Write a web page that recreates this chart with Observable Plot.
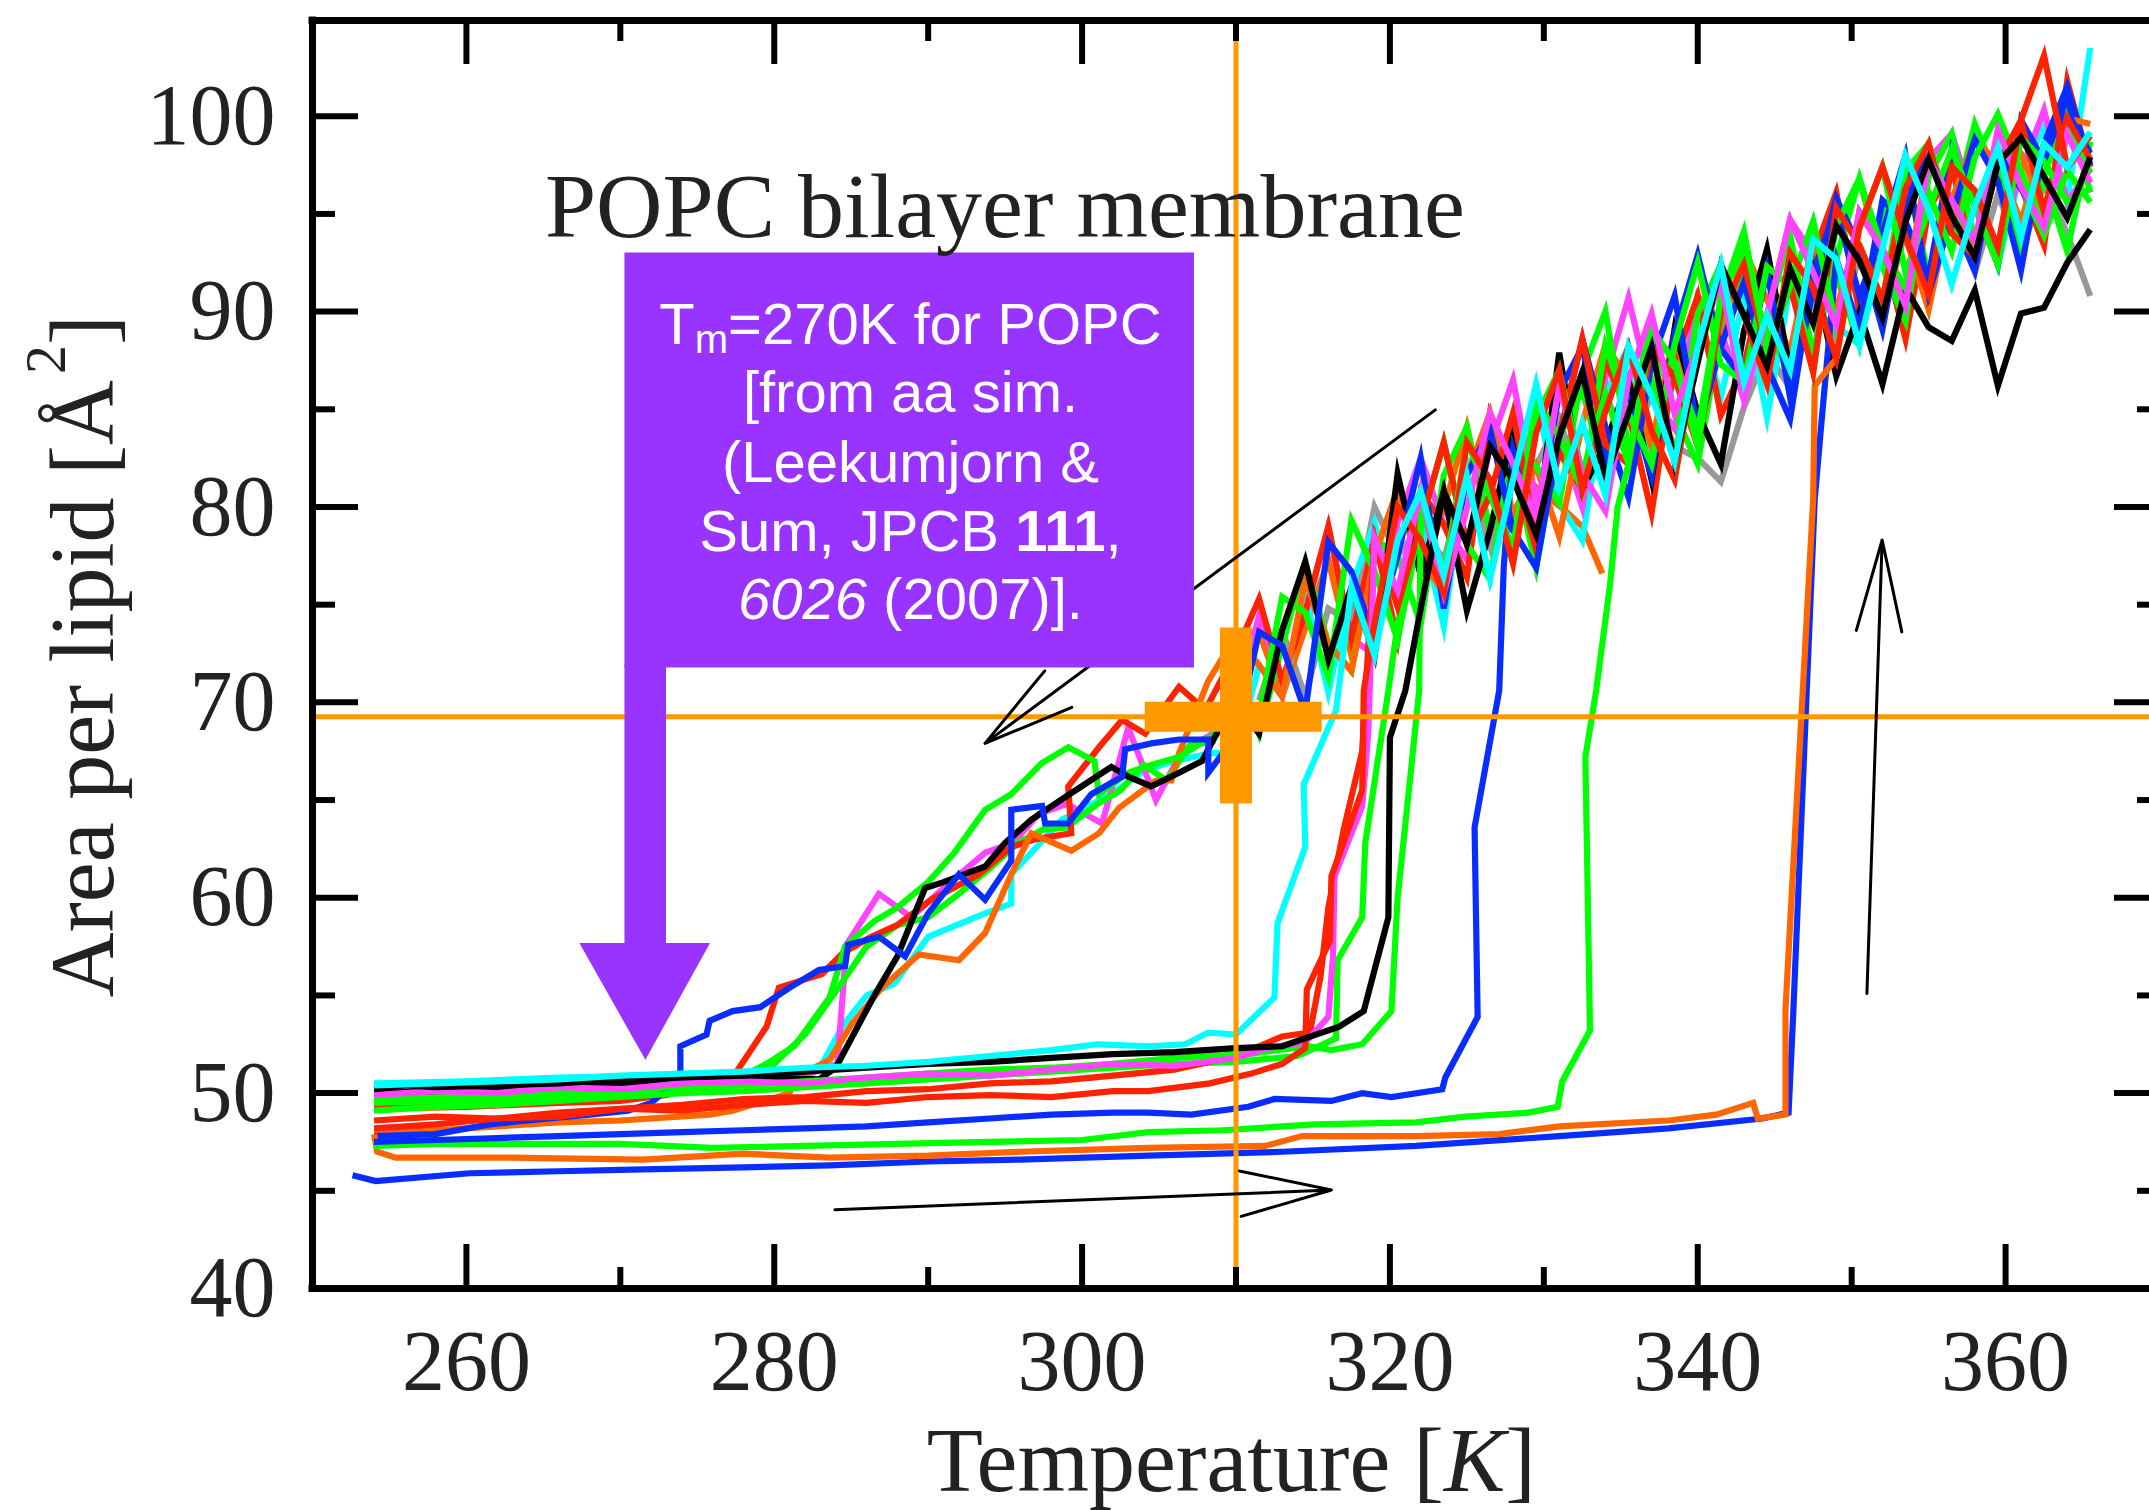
<!DOCTYPE html>
<html><head><meta charset="utf-8">
<script src="https://cdn.jsdelivr.net/npm/d3@7"></script>
<script src="https://cdn.jsdelivr.net/npm/@observablehq/plot@0.6"></script>
<style>html,body{margin:0;padding:0;background:#fff;overflow:hidden}</style>
</head><body><div id="chart"></div>
<script>
// ---------- ticks ----------
const xMajor = [260, 280, 300, 320, 340, 360];
const xMinor = [270, 290, 310, 330, 350];
const yMajor = [40, 50, 60, 70, 80, 90, 100];
const yMinor = [45, 55, 65, 75, 85, 95];

// ---------- shared temperature grid of the high-T (fluid) band ----------
const bandT = [310,311.5,313,314.5,316,317.5,319,320.5,322,323.5,325,326.5,328,329.5,331,332.5,334,335.5,337,338.5,340,341.5,343,344.5,346,347.5,349,350.5,352,353.5,355,356.5,358,359.5,361,362.5,364,365.5];

// ---------- cooling runs: low-T part [T, A] then band values ----------
const coolBlackLow = [[254,50.0],[258,50.1],[262,50.3],[266,50.4],[270,50.5],[274,50.7],[278,50.8],[282.9,50.7],[284,51.3],[286.5,55.0],[288,57.0],[289.8,60.5],[291,60.8],[293.7,61.6],[295,62.8],[296.7,64.0],[299,65.2],[301.9,66.7],[303,66.2],[304.5,65.7],[306.3,66.4],[307.8,67.0],[308.6,68.2]];
const coolBlackBand = [70.0,68.4,73.7,77.2,72.2,75.9,72.4,81.7,76.5,80.8,74.7,78.8,83.9,78.6,87.9,80.9,83.2,86.5,81.4,89.1,84.8,82.2,89.0,93.2,87.0,92.0,86.7,90.0,86.3,91.2,89.2,88.5,91.1,86.2,89.9,90.2,92.5,94.2];

const coolBlueLow = [[254,47.8],[258,47.9],[261.5,48.4],[264,48.6],[268,48.9],[270.5,49.1],[272,49.5],[273.9,50.8],[273.9,52.4],[275.6,53.0],[275.8,53.7],[277.3,54.2],[279.1,54.4],[281,55.4],[282.9,56.3],[284.6,56.5],[284.8,57.6],[286.8,58.0],[288.5,57.0],[290,59.2],[292,61.2],[293.7,59.9],[295.4,61.9],[295.4,64.5],[297.4,64.7],[297.6,63.8],[299.1,63.8],[300.6,65.3],[302.6,66.2],[302.8,67.6],[304.5,67.9],[306.3,68.1],[308.2,68.1],[308.2,66.4]];
const coolBlueBand = [68.3,73.6,72.9,69.5,78.2,76.7,73.2,77.5,82.5,74.8,81.6,84.0,78.8,76.9,83.6,88.6,84.1,80.5,87.4,90.8,83.9,88.2,91.5,87.2,84.5,92.0,95.3,90.8,94.0,98.0,90.9,94.9,98.8,96.7,92.1,98.6,101.5,97.5];

const coolGreenLow = [[254,49.7],[260,49.9],[266,50.0],[272,50.2],[277,50.5],[279.5,51.5],[281.3,52.4],[283.6,54.9],[284.6,57.5],[286.5,58.8],[288,59.5],[290,60.8],[291.7,62.3],[293.7,64.5],[295.4,65.3],[297.4,66.9],[299.1,67.7],[300.8,67.0],[301.1,65.3],[303,66.4],[304.5,66.8],[306.3,67.2],[308.5,68.3]];
const coolGreenBand = [70.9,69.3,75.4,74.6,71.3,79.3,76.7,73.2,79.1,83.3,78.1,76.3,83.1,82.1,80.2,86.9,90.0,83.0,86.5,82.3,89.9,92.4,86.4,89.8,93.9,87.7,92.7,96.8,92.3,89.5,96.9,99.1,93.6,97.6,93.8,96.9,93.1,98.7];

const coolGreen2Low = [[254,49.3],[262,49.6],[270,49.9],[276,50.3],[280,51.5],[282,53.0],[284,55.2],[286,57.5],[288,58.6],[290,59.0],[292,60.2],[294,61.5],[295.8,62.8],[297.5,63.5],[299,63.6],[301,64.8],[302.5,65.5],[304,66.8],[305.5,66.0],[307,67.8],[308.5,68.0]];
const coolGreen2Band = [71.7,68.4,72.9,77.2,73.0,71.6,78.4,77.5,74.0,81.6,84.1,78.8,82.2,76.9,83.6,86.0,81.5,84.8,89.1,84.8,82.2,89.0,92.4,88.9,87.0,93.7,91.9,88.3,94.9,97.2,91.8,94.9,99.6,96.7,92.9,96.9,100.8,96.1];

const coolRedLow = [[254,49.2],[260,49.3],[266,49.5],[270,49.6],[273,49.9],[275.8,50.5],[277.3,50.8],[279.5,53.4],[280.3,55.4],[283.1,56.1],[284.5,57.2],[286.3,58.0],[288,58.6],[290.2,59.9],[293.3,61.2],[295.4,62.6],[297,63.0],[299.3,63.3],[299.1,65.7],[301.1,67.7],[302.6,69.1],[304.1,68.4],[306.3,70.8],[308,69.6]];
const coolRedBand = [72.6,75.3,71.1,74.6,79.0,73.3,78.4,73.2,80.8,79.1,76.4,84.8,82.2,77.8,82.8,80.9,87.5,84.8,79.7,87.4,90.8,84.7,87.2,92.3,86.2,92.9,96.1,90.0,93.2,88.6,95.2,97.4,92.8,97.6,96.4,93.4,101.8,97.4];

const coolOrangeLow = [[254,48.0],[258,48.1],[262,48.3],[266,48.5],[270,48.6],[275.8,48.9],[277.3,49.1],[281,50.0],[281.3,50.8],[283.6,51.7],[285,53.5],[287,55.4],[289.4,57.1],[292,56.8],[293.7,58.2],[295.4,61.2],[296.7,63.3],[299.3,62.4],[301.1,63.3],[302.4,64.6],[304.8,66.0],[305.8,66.0],[306.3,67.4],[308.2,71.1]];
const coolOrangeBand = [73.4,71.9,70.3,76.3,73.0,71.6,77.5,80.9,77.4,75.6,81.6,84.8,79.6,82.1,78.5,84.3,88.3,86.5,83.1,89.1,83.9,88.2,93.2,90.6,87.9,93.7,90.1,94.3,97.4,93.8,90.1,95.7,98.8,97.6,94.6,98.6,97.4,98.6];

const coolCyanLow = [[254,50.5],[260,50.6],[266,50.8],[272,50.9],[278,51.0],[282.9,51.2],[284.5,53.5],[286,55.0],[287.8,55.6],[290,58.0],[293.7,59.2],[295.4,59.7],[295.4,61.2],[298.7,64.0],[301.9,65.3],[304,66.5],[306,67.0],[308.4,67.4]];
const coolCyanBand = [67.4,71.9,70.3,75.5,70.5,75.9,79.2,74.9,79.1,73.9,82.4,80.6,77.9,85.5,80.2,78.3,85.8,88.2,82.2,86.6,89.9,85.6,90.7,84.6,91.3,94.6,89.3,88.3,94.9,93.8,91.8,97.4,96.2,92.4,97.2,99.4,95.6,103.5];

const coolMagentaLow = [[254,49.9],[262,50.0],[270,50.3],[278,50.6],[282,50.9],[284.1,51.5],[284.7,57.6],[286.8,60.2],[288.9,59.0],[291,60.5],[293.7,62.3],[295.5,62.8],[297.2,64.3],[299,64.8],[301.3,63.8],[303,68.7],[304.8,65.0],[306.5,67.5],[308.5,68.4]];
const coolMagentaBand = [70.0,74.4,71.1,74.6,79.0,73.3,72.4,79.2,82.5,79.1,77.3,83.1,86.5,80.3,83.6,80.0,86.6,90.7,85.7,84.0,90.8,89.0,85.5,89.8,94.7,92.9,89.3,95.1,93.2,90.3,97.8,99.1,95.4,93.3,97.2,100.3,95.6,97.3];

const coolGrayBand = [null,70.1,73.7,70.3,74.8,74.1,80.0,77.5,79.1,77.3,81.6,78.0,83.9,82.1,84.5,80.9,85.8,83.0,85.7,83.1,82.5,81.3,85.1,87.9,86.1,90.8,88.5,92.9,89.8,94.1,91.7,95.0,92.0,96.0,93.0,96.5,94.0,90.8];

const coolOrange2Band = [70.9,73.6,70.3,73.8,77.3,72.4,77.5,80.9,76.5,79.9,84.1,78.8,82.2,81.0];
const coolOrange2Tail = [[331.4,79.8],[332.5,79.0],[333.8,76.6]];

// ---------- heating runs: low-T (gel) part [T, A] then band values from a grid index ----------
const heatCyanLow = [[254,50.4],[258,50.5],[262,50.6],[266,50.7],[270,50.9],[274,51.0],[278,51.1],[282,51.3],[286,51.4],[290,51.6],[294,51.9],[298,52.2],[301,52.5],[304.3,52.4],[306.7,52.5],[308.2,53.1],[310,53.0],[312.5,54.9],[312.7,58.7],[314.5,62.6],[314.4,65.8],[316.5,69.6]];
const heatCyanBand = [75.9,72.4,78.3,80.8,76.5,81.6,76.3,81.4,86.3,81.0,84.3,80.6,88.2,85.7,82.3,88.2,92.4,86.4,89.8,87.0,93.7,92.7,88.3,93.2,98.0,95.2,91.4,95.4,98.4,93.8,98.6,97.4,99.2];

const heatMagentaLow = [[254,49.9],[258,50.1],[262,50.0],[266,50.3],[270,50.2],[274,50.5],[278,50.6],[282,50.5],[286,50.8],[290,51.0],[294,50.9],[298,51.2],[302,51.5],[306,51.4],[310,51.8],[312,52.3],[314.5,52.6],[316,53.9],[316.3,57.0],[316.4,61.1],[318.2,64.7],[318.6,68.5]];
const heatMagentaBand = [78.4,75.7,80.8,75.6,79.9,84.8,82.2,79.5,86.2,81.7,79.8,86.5,89.9,84.8,88.2,91.6,85.5,89.8,94.7,92.0,89.3,95.1,93.2,90.3,97.8,95.7,93.6,99.3,96.4,94.3,99.1,96.6];

const heatRedLow = [[254,48.6],[258,48.8],[262,48.7],[266,49.0],[270,49.2],[274,49.1],[278,49.4],[282,49.6],[286,49.5],[290,49.8],[294,49.9],[298,49.8],[302,50.1],[304.3,50.1],[308.3,50.5],[311,51.0],[313,51.5],[314.5,52.3],[314.6,55.3],[316.1,57.8],[316.2,61.1],[318.2,65.5],[318.3,70.6]];
const heatRedBand = [74.1,80.0,78.3,75.6,83.3,81.4,77.1,83.8,87.0,80.9,84.9,88.2,83.9,81.4,88.2,92.4,89.8,86.3,93.0,91.2,87.6,94.3,97.4,93.8,90.9,97.4,96.2,93.3,99.8,103.1,97.4,99.0];

const heatRed2Low = [[254,48.2],[258,48.4],[262,48.7],[266,48.8],[270,49.2],[274,49.4],[278,49.7],[282,49.8],[286,50.1],[290,50.2],[294,50.5],[298,50.6],[302,50.9],[306,51.2],[310,51.9],[313,52.9],[314.8,53.1],[315.5,56.0],[316,59.5],[317,63.5],[318.2,67.5]];
const heatRed2Band = [78.4,74.9,79.1,83.3,78.1,80.6,84.8,78.6,83.6,88.6,83.2,82.2,88.2,86.6,83.1,89.9,92.4,88.0,91.3,86.9,95.3,93.4,90.6,96.3,98.6,94.0,92.8,97.6,99.8,95.1,99.9,97.8];

const heatBlackLow = [[254,50.2],[256,50.4],[258,50.3],[262,50.4],[266,50.5],[270,50.7],[274,50.8],[278,50.9],[282,51.1],[286,51.3],[290,51.5],[294,51.6],[298,51.8],[302,52.0],[306,52.1],[310,52.3],[313,52.4],[316.7,53.4],[318.3,54.2],[319.9,59.0],[320,68.2],[321,70.6]];
const heatBlackBand = [74.8,80.8,78.1,83.1,81.4,78.6,83.6,86.9,81.5,84.8,88.2,82.3,87.4,92.4,89.8,87.2,92.2,89.4,94.4,92.6,89.7,94.6,97.8,94.9,92.8,97.6,98.9,96.9,94.8,97.9];

const heatGreenLow = [[254,49.5],[258,49.7],[262,49.9],[266,50.0],[270,50.2],[274,50.3],[278,50.4],[282,50.6],[286,50.8],[290,51.0],[294,51.2],[298,51.3],[302,51.5],[306,51.8],[310.8,52.0],[314.7,52.4],[316.2,52.2],[318.2,52.5],[320.1,54.2],[320.5,60.0],[321.3,66.0],[321.9,70.6]];
const heatGreenBand = [80.0,76.5,83.3,80.6,77.9,84.6,87.0,81.7,85.8,82.2,89.1,87.4,83.1,90.7,94.1,88.0,91.3,94.6,89.3,94.3,97.4,92.0,95.2,98.3,95.4,92.4,98.9,97.7,95.6,96.3];

const heatGreen3Low = [[254,49.1],[258,49.3],[262,49.4],[266,49.6],[270,49.8],[274,50.0],[278,50.1],[282,50.3],[286,50.5],[290,50.7],[294,50.9],[298,51.1],[302,51.3],[306,51.5],[310,51.6],[314,51.9],[316.5,52.8],[316.6,56.8],[318.2,59.0],[318.4,62.8],[319.9,70.6]];
const heatGreen3Band = [74.0,79.1,83.3,78.1,80.6,77.9,85.5,83.6,80.9,88.3,84.8,82.2,88.3,92.5,87.3,86.4,92.3,91.3,87.7,94.4,96.8,93.2,91.2,96.1,93.1,97.9,100.1,97.2,94.3,99.9,97.1];

const heatBlueLow = [[254,47.5],[258,47.6],[262,47.7],[266,47.8],[270,47.9],[274,48.0],[278,48.1],[282,48.2],[286,48.3],[290,48.5],[294,48.7],[298,48.9],[302,49.0],[304.3,49.0],[307.1,48.9],[310.8,49.3],[312.5,49.7],[316.2,49.6],[318.2,50.0],[320.1,49.8],[323.4,50.2],[323.6,50.8],[325.7,53.9],[325.5,63.6],[327.1,70.6],[327.4,77.0]];
const heatBlueBand = [82.9,78.8,85.9,88.2,82.4,85.5,81.6,88.9,92.9,88.1,86.5,92.1,85.6,91.1,95.8,93.3,89.1,95.3,98.3,94.8,92.1,98.2,96.3,94.4,100.2,98.1];

const heatGreen2Low = [[254,47.3],[258,47.4],[264,47.4],[270,47.4],[276,47.2],[282,47.3],[288,47.4],[294,47.5],[300,47.6],[304.3,48.0],[309.1,48.1],[315.1,48.4],[321.7,48.5],[324.9,48.8],[329,49.0],[330.9,49.3],[331.2,50.6],[333,53.2],[332.7,67.2],[333.4,70.6],[334.3,76.0],[334.8,80.0]];
const heatGreen2Band = [82.2,89.1,87.4,83.9,90.7,93.2,88.0,92.2,86.9,95.3,93.4,90.6,97.2,98.6,94.9,92.8,97.6,96.4,93.9,97.2,95.6];

const heatOrangeLow = [[254,47.9],[254.2,47.0],[255.4,46.7],[262.8,46.7],[271.5,46.6],[278,46.9],[283.6,46.7],[290,46.8],[296,47.0],[300,47.1],[304.3,47.2],[311.9,47.3],[314.3,47.8],[321.7,47.8],[327.1,47.9],[331,48.3],[338.1,48.6],[341.2,48.9],[343.6,49.5],[343.9,48.7],[345.7,48.9],[345.7,54.3],[347.5,80.4],[347.6,86.2]];
const heatOrangeBand = [87.6,95.1,93.2,91.2,97.8,95.7,92.8,99.3,98.1,95.1,99.9,99.6];

const heatBlue2Low = [[252.6,45.8],[254.1,45.5],[260.2,45.9],[266,46.0],[271.5,46.1],[278,46.2],[283.6,46.3],[290,46.5],[296,46.6],[304.3,46.8],[313,47.0],[321.7,47.3],[331,47.8],[338.1,48.2],[344.2,48.7],[345.9,49.0],[346.2,54.0],[347.6,80.4],[348,84.0]];
const heatBlue2Band = [92.7,89.1,95.7,94.6,91.8,98.3,95.4,92.4,99.8,97.7,101.0,97.5];

// ---------- annotations ----------
const crossCenter = {T: 310, A: 69.27};
const crossV = [{T: 310, a1: 64.8, a2: 73.8}];
const crossH = [{A: 69.27, t1: 304.1, t2: 315.6}];
const arrows = [
  {t1: 322.95, a1: 84.97, t2: 293.69, a2: 67.9},
  {t1: 283.94, a1: 44.03, t2: 316.2, a2: 45.04},
  {t1: 350.99, a1: 55.1, t2: 351.98, a2: 78.31}
];
const noteBox = [{t1: 270.3, t2: 307.3, a1: 71.76, a2: 93.0}];
const noteShaft = [{t1: 270.3, t2: 273.0, a1: 57.6, a2: 71.9}];
const noteHead = [{T: 267.37, b: 57.66, A: 57.66}, {T: 271.66, b: 57.66, A: 51.68}, {T: 275.86, b: 57.66, A: 57.66}];
const noteLines = [
  {txt: "Tm=270K for POPC", A: 88.35},
  {txt: "[from aa sim.", A: 84.87},
  {txt: "(Leekumjorn &", A: 81.28},
  {txt: "Sum, JPCB 111,", A: 77.75},
  {txt: "6026 (2007)].", A: 74.27}
];
const noteX = 288.85;
const titleText = [{txt: "POPC bilayer membrane", T: 265.1, A: 93.82}];
const xTitle = [{txt: "Temperature [K]", T: 309.7}];
const yTitle = [{txt: "Area per lipid [Å2]", A: 72.37}];

// ---------- build ----------
const C = {black: "#000000", blue: "#0a2dff", green: "#00ff00", red: "#ff2200", orange: "#ff6600", cyan: "#00ffff", magenta: "#ff44ff", gray: "#999999"};
const series = [
  {c: C.gray, pre: [], band: coolGrayBand, start: 0},
  {c: C.orange, pre: [], band: coolOrange2Band, start: 0, post: coolOrange2Tail},
  {c: C.cyan, pre: coolCyanLow, band: coolCyanBand, start: 0},
  {c: C.magenta, pre: coolMagentaLow, band: coolMagentaBand, start: 0},
  {c: C.green, pre: coolGreen2Low, band: coolGreen2Band, start: 0},
  {c: C.red, pre: coolRedLow, band: coolRedBand, start: 0},
  {c: C.orange, pre: coolOrangeLow, band: coolOrangeBand, start: 0},
  {c: C.green, pre: coolGreenLow, band: coolGreenBand, start: 0},
  {c: C.black, pre: coolBlackLow, band: coolBlackBand, start: 0},
  {c: C.blue, pre: coolBlueLow, band: coolBlueBand, start: 0},
  {c: C.blue, pre: heatBlue2Low, band: heatBlue2Band, start: 26},
  {c: C.orange, pre: heatOrangeLow, band: heatOrangeBand, start: 26},
  {c: C.green, pre: heatGreen2Low, band: heatGreen2Band, start: 17},
  {c: C.blue, pre: heatBlueLow, band: heatBlueBand, start: 12},
  {c: C.green, pre: heatGreen3Low, band: heatGreen3Band, start: 7},
  {c: C.red, pre: heatRed2Low, band: heatRed2Band, start: 6},
  {c: C.green, pre: heatGreenLow, band: heatGreenBand, start: 8},
  {c: C.magenta, pre: heatMagentaLow, band: heatMagentaBand, start: 6},
  {c: C.red, pre: heatRedLow, band: heatRedBand, start: 6},
  {c: C.black, pre: heatBlackLow, band: heatBlackBand, start: 8},
  {c: C.cyan, pre: heatCyanLow, band: heatCyanBand, start: 5}
];
function points(s) {
  const out = s.pre.map(([T, A]) => ({T, A}));
  s.band.forEach((A, i) => { if (A != null) out.push({T: bandT[s.start + i], A}); });
  (s.post || []).forEach(([T, A]) => out.push({T, A}));
  return out;
}

const W = 2149, H = 1510, mL = 312, mR = 0, mT = 20, mB = 222;
const plotW = W - mL - mR, plotH = H - mT - mB;
const majLen = 44, minLen = 21;
const ORANGE = "#ff9900", PURPLE = "#9933ff", INK = "#222";
const serif = "'Liberation Serif', 'Times New Roman', serif";
const sans = "'Liberation Sans', Arial, sans-serif";

const marks = [];
for (const s of series) {
  marks.push(Plot.line(points(s), {x: "T", y: "A", stroke: s.c, strokeWidth: 6.2, strokeLinejoin: "miter", strokeMiterlimit: 6, strokeLinecap: "butt"}));
}
// orange guide lines and cross
marks.push(Plot.ruleX([crossCenter], {x: "T", stroke: ORANGE, strokeWidth: 5}));
marks.push(Plot.ruleY([crossCenter], {y: "A", stroke: ORANGE, strokeWidth: 5}));
marks.push(Plot.ruleX(crossV, {x: "T", y1: "a1", y2: "a2", stroke: ORANGE, strokeWidth: 32}));
marks.push(Plot.ruleY(crossH, {y: "A", x1: "t1", x2: "t2", stroke: ORANGE, strokeWidth: 30}));
// black arrows
marks.push(Plot.arrow(arrows, {x1: "t1", y1: "a1", x2: "t2", y2: "a2", stroke: "black", strokeWidth: 3, headAngle: 28, headLength: 47}));
// purple note
marks.push(Plot.rect(noteBox, {x1: "t1", x2: "t2", y1: "a1", y2: "a2", fill: PURPLE}));
marks.push(Plot.rect(noteShaft, {x1: "t1", x2: "t2", y1: "a1", y2: "a2", fill: PURPLE}));
marks.push(Plot.areaY(noteHead, {x: "T", y1: "b", y2: "A", fill: PURPLE}));
marks.push(Plot.text(noteLines, {x: () => noteX, y: "A", text: "txt", fill: "white", fontFamily: sans, fontSize: 58, textAnchor: "middle", lineAnchor: "bottom"}));
// texts
marks.push(Plot.text(titleText, {x: "T", y: "A", text: "txt", fill: INK, fontFamily: serif, fontSize: 92, textAnchor: "start", lineAnchor: "bottom"}));
marks.push(Plot.text(xTitle, {x: "T", frameAnchor: "bottom", dy: 202, text: "txt", fill: INK, fontFamily: serif, fontSize: 92, textAnchor: "middle", lineAnchor: "bottom"}));
marks.push(Plot.text(yTitle, {y: "A", frameAnchor: "left", dx: -200, rotate: -90, text: "txt", fill: INK, fontFamily: serif, fontSize: 90, textAnchor: "middle", lineAnchor: "bottom"}));
// frame (left, top, bottom)
marks.push(Plot.ruleX([250], {stroke: "black", strokeWidth: 7, insetTop: -3.5, insetBottom: -3.5}));
marks.push(Plot.ruleY([40, 104.9], {stroke: "black", strokeWidth: 7, insetLeft: -3.5}));
// ticks
const tk = {stroke: "black", strokeWidth: 6};
marks.push(Plot.tickX(xMajor, {x: d => d, insetTop: plotH - majLen, ...tk}));
marks.push(Plot.tickX(xMinor, {x: d => d, insetTop: plotH - minLen, ...tk}));
marks.push(Plot.tickX(xMajor, {x: d => d, insetBottom: plotH - majLen, ...tk}));
marks.push(Plot.tickX(xMinor, {x: d => d, insetBottom: plotH - minLen, ...tk}));
marks.push(Plot.tickY(yMajor, {y: d => d, insetRight: plotW - majLen - 2, ...tk}));
marks.push(Plot.tickY(yMinor, {y: d => d, insetRight: plotW - minLen - 2, ...tk}));
marks.push(Plot.tickY(yMajor, {y: d => d, insetLeft: plotW - 35, ...tk}));
marks.push(Plot.tickY(yMinor, {y: d => d, insetLeft: plotW - 12, ...tk}));
// axis labels
marks.push(Plot.axisX({anchor: "bottom", ticks: xMajor, tickSize: 0, tickPadding: 40, label: null, fontSize: 86, fontFamily: serif, fill: INK}));
marks.push(Plot.axisY({anchor: "left", ticks: yMajor, tickSize: 0, tickPadding: 37, label: null, fontSize: 86, fontFamily: serif, fill: INK}));

const svg = Plot.plot({
  width: W, height: H,
  marginLeft: mL, marginRight: mR, marginTop: mT, marginBottom: mB,
  x: {domain: [250, 369.35]},
  y: {domain: [40, 104.9]},
  style: {fontFamily: serif, fontSize: "86px", color: INK, background: "#fff"},
  marks
});

// rich text (sub/superscripts, bold, italic)
function rich(el, parts) {
  while (el.firstChild) el.removeChild(el.firstChild);
  for (const p of parts) {
    const t = document.createElementNS("http://www.w3.org/2000/svg", "tspan");
    t.textContent = p.t;
    for (const k in (p.a || {})) t.setAttribute(k, p.a[k]);
    el.appendChild(t);
  }
}
svg.querySelectorAll("text").forEach(el => {
  const s = el.textContent;
  if (s === "Tm=270K for POPC") rich(el, [{t: "T"}, {t: "m", a: {"font-size": 40, dy: 9}}, {t: "=270K for POPC", a: {dy: -9}}]);
  else if (s === "Sum, JPCB 111,") rich(el, [{t: "Sum, JPCB "}, {t: "111", a: {"font-weight": "bold"}}, {t: ","}]);
  else if (s === "6026 (2007)].") rich(el, [{t: "6026", a: {"font-style": "italic"}}, {t: " (2007)]."}]);
  else if (s === "Temperature [K]") rich(el, [{t: "Temperature ["}, {t: "K", a: {"font-style": "italic"}}, {t: "]"}]);
  else if (s === "Area per lipid [Å2]") rich(el, [{t: "Area per lipid [Å"}, {t: "2", a: {"font-size": 58, dy: -48, dx: 6}}, {t: "]", a: {dy: 48}}]);
});

document.getElementById("chart").appendChild(svg);
</script>
</body></html>
